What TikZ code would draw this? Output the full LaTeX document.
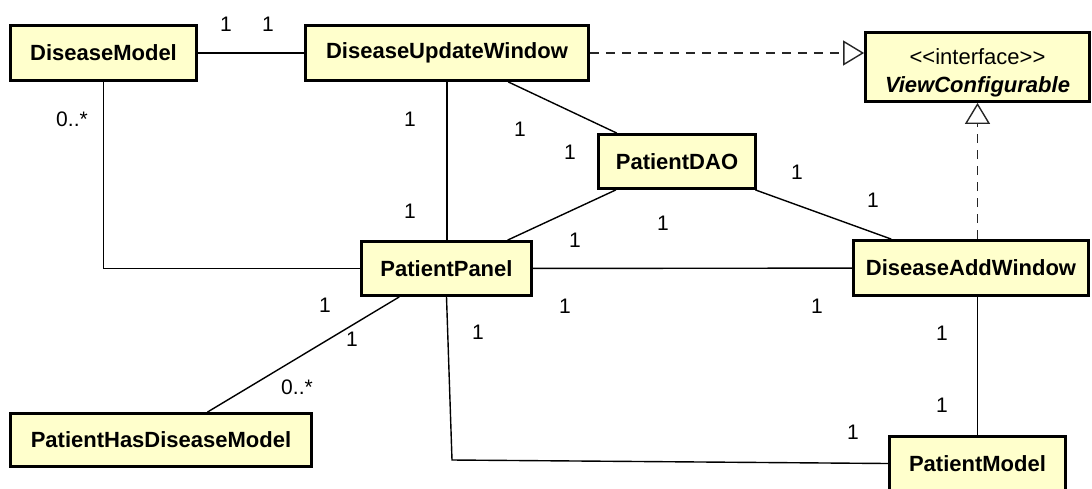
\documentclass[tikz,border=0pt]{standalone}
\usepackage{fontspec}
\setmainfont{Liberation Sans}
\usetikzlibrary{arrows.meta}
\definecolor{clsfill}{HTML}{FFFFCC}
\tikzset{
  cls/.style={draw, line width=2.8pt, fill=clsfill, inner sep=0pt,
    font=\bfseries\fontsize{22}{28}\selectfont},
  mult/.style={inner sep=0pt, font=\fontsize{21}{24}\selectfont},
  assoc/.style={line width=1.4pt},
  realize/.style={line width=1.4pt, draw=black!85, dash pattern=on 9pt off 7pt,
    -{Triangle[open, length=21pt, width=25pt]}}
}
\begin{document}
\begin{tikzpicture}[x=1pt, y=-1pt]
\useasboundingbox (0,0) rectangle (1092,488);
% classes
\node[cls, minimum width=186pt, minimum height=55pt] (dm) at (103.5,53) {DiseaseModel};
\node[cls, minimum width=283pt, minimum height=55pt] (duw) at (447,53) {DiseaseUpdateWindow};
\node[cls, minimum width=224pt, minimum height=69pt, align=center] (vc) at (977.5,67)
  {\mdseries\rule{0pt}{28pt}\textless\kern0pt\textless\kern0pt interface\kern0pt\textgreater\kern0pt\textgreater\\\textbf{\textit{ViewConfigurable}}};
\node[cls, minimum width=157pt, minimum height=54pt] (dao) at (677,161.5) {PatientDAO};
\node[cls, minimum width=170pt, minimum height=54pt] (pp) at (446.5,268.5) {PatientPanel};
\node[cls, minimum width=235pt, minimum height=55pt] (daw) at (971,268) {DiseaseAddWindow};
\node[cls, minimum width=176pt, minimum height=54pt] (pm) at (977.5,463.5) {PatientModel};
\node[cls, minimum width=301pt, minimum height=53pt] (phdm) at (161,440) {PatientHasDiseaseModel};
% connectors
\coordinate (bend) at (452,460);
\draw[assoc] (dm) -- (duw);
\draw[assoc] (dm) |- (pp);
\draw[assoc] (duw.south) -- (duw.south |- pp.north);
\draw[assoc] (duw) -- (dao);
\draw[assoc] (dao) -- (pp);
\draw[assoc] (dao) -- (daw);
\draw[assoc] (pp) -- (daw);
\draw[assoc] (pp) -- (phdm);
\draw[assoc] (pp.south) -- (bend) -- (pm.west);
\draw[assoc] (pm.north) -- (pm.north |- daw.south);
\draw[realize] (duw.east) -- (duw.east -| vc.west);
\draw[realize] (vc.south |- daw.north) -- (vc.south);
% multiplicities
\node[mult] (m1) at (226,24) {1};
\node[mult] (m2) at (268,24) {1};
\node[mult] (m3) at (72,119) {0..*};
\node[mult] (m4) at (410,119) {1};
\node[mult] (m5) at (410,211) {1};
\node[mult] (m6) at (520,129) {1};
\node[mult] (m7) at (570,152) {1};
\node[mult] (m8) at (575,240) {1};
\node[mult] (m9) at (663,223) {1};
\node[mult] (m10) at (797,172) {1};
\node[mult] (m11) at (873,200) {1};
\node[mult] (m12) at (565,306) {1};
\node[mult] (m13) at (817,306) {1};
\node[mult] (m14) at (478,332) {1};
\node[mult] (m15) at (942,333) {1};
\node[mult] (m16) at (942,405) {1};
\node[mult] (m17) at (853,432) {1};
\node[mult] (m18) at (325,305) {1};
\node[mult] (m19) at (352,339) {1};
\node[mult] (m20) at (297,387) {0..*};
\end{tikzpicture}
\end{document}
